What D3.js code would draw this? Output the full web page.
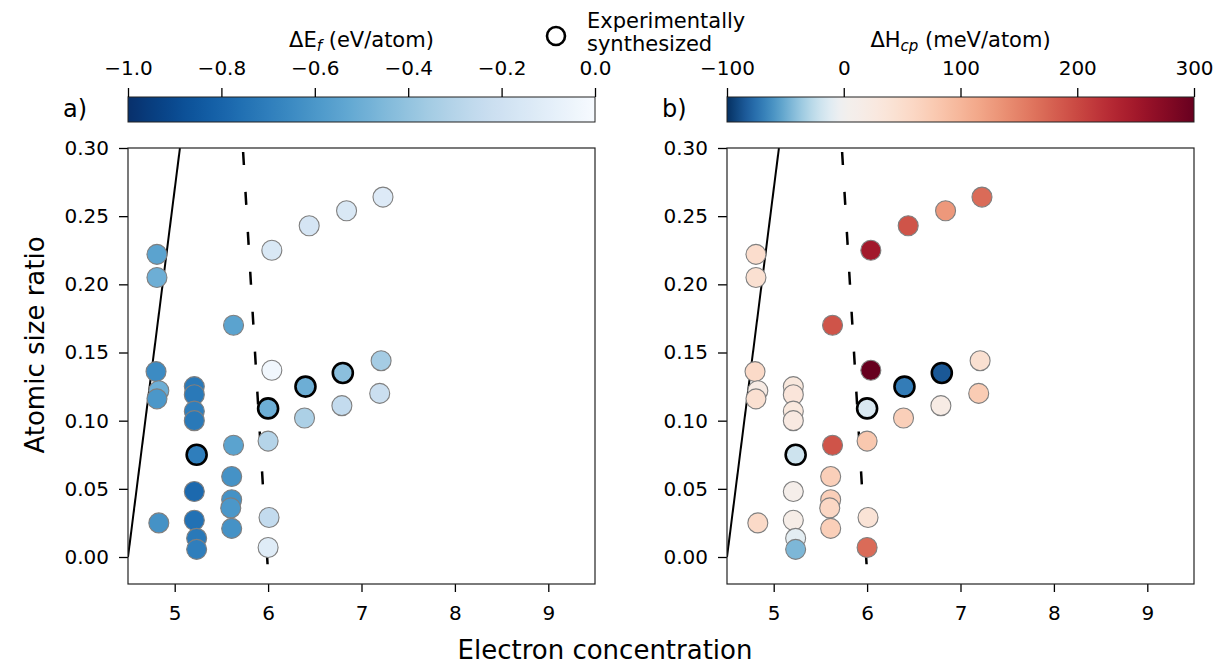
<!DOCTYPE html>
<html>
<head>
<script src="https://d3js.org/d3.v7.min.js"></script>
<style>
  body { margin: 0; background: #fff; }
  text { font-family: "DejaVu Sans", sans-serif; fill: #000; }
</style>
</head>
<body>
<svg width="1215" height="667"></svg>
<script>
const electronConc = [4.81, 4.81, 5.63, 6.04, 6.44, 6.84, 7.23, 4.80, 4.83, 4.81, 5.21, 5.21, 5.21, 5.21, 5.235, 5.21, 5.21, 5.235, 5.235, 4.83, 5.63, 5.61, 5.61, 5.60, 5.61, 6.04, 6.00, 6.00, 6.01, 6.00, 6.40, 6.39, 6.80, 6.79, 7.21, 7.195];
const sizeRatio = [0.222, 0.205, 0.170, 0.225, 0.243, 0.254, 0.264, 0.136, 0.122, 0.116, 0.125, 0.119, 0.107, 0.100, 0.075, 0.048, 0.027, 0.0137, 0.0056, 0.025, 0.082, 0.059, 0.042, 0.036, 0.021, 0.137, 0.109, 0.085, 0.029, 0.007, 0.125, 0.102, 0.135, 0.111, 0.144, 0.120];
const formationE = [-0.55, -0.50, -0.55, -0.15, -0.17, -0.15, -0.13, -0.65, -0.50, -0.60, -0.72, -0.72, -0.70, -0.72, -0.70, -0.78, -0.75, -0.72, -0.70, -0.62, -0.55, -0.62, -0.62, -0.60, -0.62, -0.03, -0.50, -0.30, -0.25, -0.12, -0.50, -0.33, -0.42, -0.25, -0.35, -0.22];
const hullDist = [50, 45, 190, 250, 190, 130, 170, 55, 20, 45, 30, 35, 30, 25, -20, 10, 15, -10, -45, 55, 190, 70, 70, 60, 70, 300, -15, 80, 40, 170, -70, 70, -85, 20, 45, 75];
const synthesized = [0,0,0,0,0,0,0,0,0,0,0,0,0,0,1,0,0,0,0,0,0,0,0,0,0,0,1,0,0,0,1,0,1,0,0,0];

const xTicks = [5, 6, 7, 8, 9];
const yTicks = [0.00, 0.05, 0.10, 0.15, 0.20, 0.25, 0.30];
const cbTicksA = [-1.0, -0.8, -0.6, -0.4, -0.2, 0.0];
const cbTicksB = [-100, 0, 100, 200, 300];
const solidLine = [[4.5, 0.0], [5.056, 0.30]];
const dashedLine = [[5.73, 0.30], [6.0, -0.012]];

const svg = d3.select("svg");
const fmtMinus = s => s.replace("-", "\u2212");

const colorA = v => d3.interpolateBlues(Math.max(0, Math.min(1, -v)));
const colorB = v => {
  const t = v < 0 ? 0.5 * (v + 100) / 100 : 0.5 + 0.5 * v / 300;
  return d3.interpolateRdBu(1 - Math.max(0, Math.min(1, t)));
};

const panels = [
  { left: 128, label: "a)", values: formationE, color: colorA, domain: [-1, 0], ticks: cbTicksA,
    fmt: d => fmtMinus(d3.format(".1f")(d)), title: "ΔE", sub: "f", unit: " (eV/atom)", id: "a" },
  { left: 727, label: "b)", values: hullDist, color: colorB, domain: [-100, 300], ticks: cbTicksB,
    fmt: d => fmtMinus(String(d)), title: "ΔH", sub: "cp", unit: " (meV/atom)", id: "b" }
];

const W = 467, plotTop = 148, plotBottom = 584;
const defs = svg.append("defs");

panels.forEach(p => {
  const x = d3.scaleLinear().domain([4.5, 9.5]).range([p.left, p.left + W]);
  const y = d3.scaleLinear().domain([-0.0198, 0.30]).range([plotBottom, plotTop]);

  // colorbar
  const cb = d3.scaleLinear().domain(p.domain).range([p.left, p.left + W]);
  const grad = defs.append("linearGradient").attr("id", "grad" + p.id);
  d3.range(0, 1.0001, 0.02).forEach(t => {
    grad.append("stop").attr("offset", t)
      .attr("stop-color", p.color(p.domain[0] + t * (p.domain[1] - p.domain[0])));
  });
  svg.append("rect").attr("x", p.left).attr("y", 97).attr("width", W).attr("height", 25)
    .attr("fill", `url(#grad${p.id})`).attr("stroke", "#222").attr("stroke-width", 1);
  const cbAxis = svg.append("g").attr("transform", "translate(0,97)")
    .call(d3.axisTop(cb).tickValues(p.ticks).tickFormat(p.fmt).tickSize(9).tickPadding(13));
  cbAxis.select(".domain").remove();
  cbAxis.selectAll("line").attr("stroke", "#000").attr("stroke-width", 1.3);
  cbAxis.selectAll("text").attr("font-size", 20).attr("font-family", "DejaVu Sans");
  const t = svg.append("text").attr("x", p.left + W / 2).attr("y", 47)
    .attr("text-anchor", "middle").attr("font-size", 21);
  t.append("tspan").text(p.title);
  t.append("tspan").text(p.sub).attr("font-size", 15).attr("font-style", "italic").attr("dy", 4);
  t.append("tspan").text(p.unit).attr("dy", -4);

  svg.append("text").attr("x", p.left - 65).attr("y", 117).attr("font-size", 24).text(p.label);

  // axes
  const gx = svg.append("g").attr("transform", `translate(0,${plotBottom})`)
    .call(d3.axisBottom(x).tickValues(xTicks).tickFormat(d3.format("d")).tickSize(8).tickPadding(14));
  const gy = svg.append("g").attr("transform", `translate(${p.left},0)`)
    .call(d3.axisLeft(y).tickValues(yTicks).tickFormat(d3.format(".2f")).tickSize(9).tickPadding(10));
  [gx, gy].forEach(g => {
    g.select(".domain").remove();
    g.selectAll("line").attr("stroke", "#000").attr("stroke-width", 1.3);
    g.selectAll("text").attr("font-size", 20).attr("font-family", "DejaVu Sans");
  });

  const clipId = "clip" + p.id;
  defs.append("clipPath").attr("id", clipId).append("rect")
    .attr("x", p.left).attr("y", plotTop).attr("width", W).attr("height", plotBottom - plotTop);

  const line = d3.line().x(d => x(d[0])).y(d => y(d[1]));
  const plot = svg.append("g").attr("clip-path", `url(#${clipId})`);
  plot.append("path").attr("d", line(solidLine)).attr("stroke", "#000").attr("stroke-width", 2).attr("fill", "none");
  plot.append("path").attr("d", line(dashedLine)).attr("stroke", "#000").attr("stroke-width", 2.5)
    .attr("fill", "none").attr("stroke-dasharray", "13,27").attr("stroke-dashoffset", -4);

  const idx = d3.range(electronConc.length);
  plot.selectAll("circle.pt").data(idx.filter(i => !synthesized[i])).enter().append("circle")
    .attr("cx", i => x(electronConc[i])).attr("cy", i => y(sizeRatio[i])).attr("r", 10)
    .attr("fill", i => p.color(p.values[i])).attr("stroke", "#7f7f7f").attr("stroke-width", 1.1);
  plot.selectAll("circle.ex").data(idx.filter(i => synthesized[i])).enter().append("circle")
    .attr("cx", i => x(electronConc[i])).attr("cy", i => y(sizeRatio[i])).attr("r", 10)
    .attr("fill", i => p.color(p.values[i])).attr("stroke", "#000").attr("stroke-width", 2.6);

  svg.append("rect").attr("x", p.left).attr("y", plotTop).attr("width", W).attr("height", plotBottom - plotTop)
    .attr("fill", "none").attr("stroke", "#222").attr("stroke-width", 1.2);
});

// legend
svg.append("circle").attr("cx", 556).attr("cy", 36).attr("r", 9)
  .attr("fill", "none").attr("stroke", "#000").attr("stroke-width", 2.6);
svg.append("text").attr("x", 587).attr("y", 28).attr("font-size", 21).text("Experimentally");
svg.append("text").attr("x", 587).attr("y", 51).attr("font-size", 21).text("synthesized");

// axis titles
svg.append("text").attr("x", 605).attr("y", 659).attr("text-anchor", "middle").attr("font-size", 26)
  .text("Electron concentration");
svg.append("text").attr("transform", "translate(44,345) rotate(-90)").attr("text-anchor", "middle")
  .attr("font-size", 26).text("Atomic size ratio");
</script>
</body>
</html>
